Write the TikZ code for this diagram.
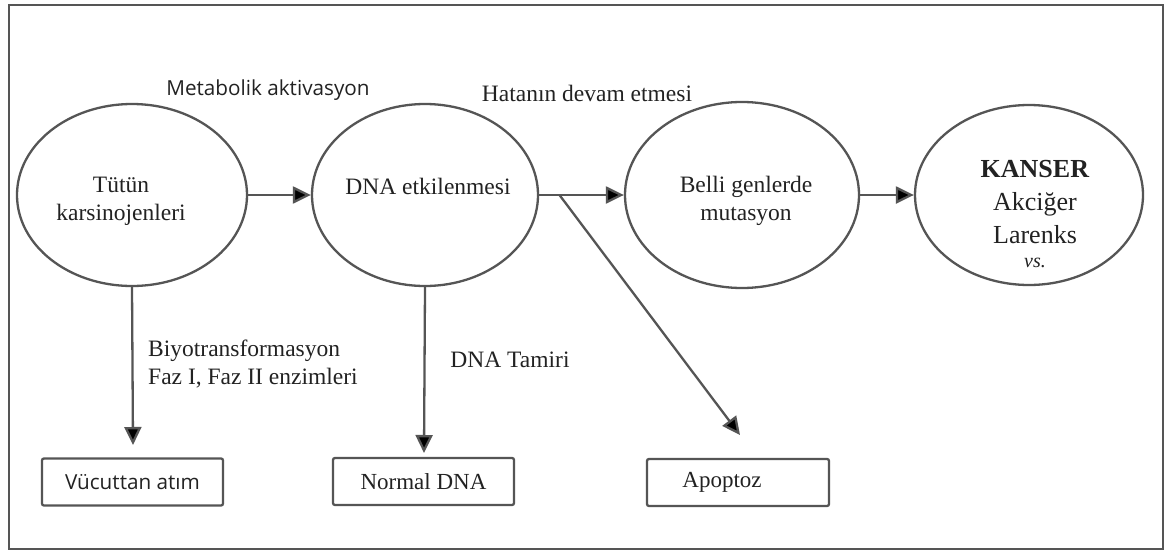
\documentclass[tikz,border=0pt]{standalone}
\usepackage{fontspec}
\setmainfont{Liberation Serif}
\newfontfamily\sansf{Open Sans}
\usetikzlibrary{arrows.meta,shapes.geometric,calc}
\definecolor{linecol}{HTML}{555555}
\definecolor{txtcol}{HTML}{222222}
\tikzset{
  ell/.style={draw=linecol, line width=2.3pt, ellipse, inner sep=0pt},
  lbox/.style={draw=linecol, line width=2.3pt, rounded corners=2pt, minimum width=181pt, minimum height=47pt, inner sep=0pt, text=txtcol},
  arr/.style={draw=linecol, line width=2.3pt, -{Triangle[length=18pt,width=17pt,fill=black]}},
  serifA/.style={text=txtcol, font=\fontsize{23.5}{28}\selectfont, align=center, inner sep=0pt},
  sansA/.style={text=txtcol, font=\sansf\fontsize{20.7}{26}\selectfont, align=center, inner sep=0pt},
}
\begin{document}
\begin{tikzpicture}[x=1pt,y=-1pt]
\useasboundingbox (0,0) rectangle (1166,551);
\fill[white] (0,0) rectangle (1166,551);
\draw[linecol, line width=2.5pt] (9,5) rectangle (1163,549);

% ellipses
\node[ell, minimum width=230pt, minimum height=182pt] (e1) at (132,195) {};
\node[ell, minimum width=226pt, minimum height=182pt] (e2) at (425,195) {};
\node[ell, minimum width=234pt, minimum height=186pt] (e3) at (742,195) {};
\node[ell, minimum width=228pt, minimum height=180pt] (e4) at (1029,195) {};

% ellipse texts
\node[serifA] (t1) at (121,201) {Tütün\\karsinojenleri};
\node[serifA] (t2) at (428,186) {DNA etkilenmesi};
\node[serifA] (t3) at (746,201) {Belli genlerde\\mutasyon};
\node[text=txtcol, align=center, inner sep=0pt, font=\fontsize{26}{33}\selectfont] (t4) at (1035,214)
  {\textbf{KANSER}\\[0pt]
   Akciğer\\[0pt]
   Larenks\\[-9pt]
   {\itshape\fontsize{20}{26}\selectfont vs.}};

% boxes
\node[lbox, font=\sansf\fontsize{20.7}{26}\selectfont] (b1) at (132.5,482) {Vücuttan atım};
\node[lbox, font=\fontsize{23}{28}\selectfont] (b2) at (423.5,481.5) {Normal DNA};
\node[lbox, minimum width=182pt, font=\fontsize{23}{28}\selectfont] (b3) at (738,482.5) {\raisebox{-2pt}{Apoptoz}\hspace*{32pt}};

% labels
\node[sansA] (l1) at (268,90) {Metabolik aktivasyon};
\node[serifA] (l2) at (587,93) {Hatanın devam etmesi};
\node[serifA, anchor=west, align=left] (l3) at (148,364) {Biyotransformasyon\\Faz I, Faz II enzimleri};
\node[serifA] (l4) at (510,360) {DNA Tamiri};

% coordinates for free ends
\coordinate (d1) at (133,445);
\coordinate (d2) at (424,453);
\coordinate (d3) at (740,435);
\path (e2.east) -- (e3.west) coordinate[pos=0.24] (br);

% connectors
\draw[arr] (e1.east) -- (e2.west);
\draw[arr] (e2.east) -- (e3.west);
\draw[arr] (e3.east) -- (e4.west);
\draw[arr] (br) -- (d3);
\draw[arr] (e1.south) -- (d1);
\draw[arr] (e2.south) -- (d2);
\end{tikzpicture}
\end{document}
